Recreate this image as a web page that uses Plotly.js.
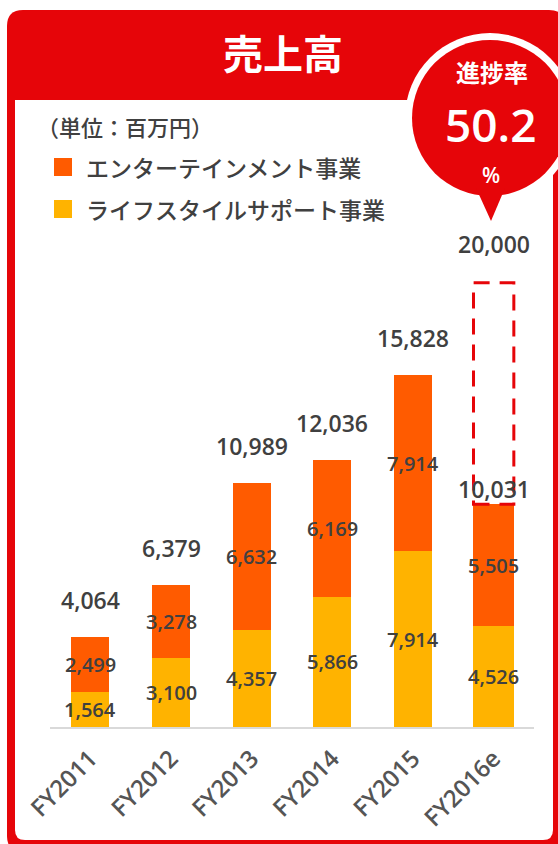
<!DOCTYPE html>
<html>
<head>
<meta charset="utf-8">
<script src="https://cdn.plot.ly/plotly-3.0.1.min.js"></script>
<style>
html,body{margin:0;padding:0;background:#fff;}
#chart{width:558px;height:844px;}
</style>
</head>
<body>
<div id="chart"></div>
<script>
// ---- data ----
const categories = ['FY2011', 'FY2012', 'FY2013', 'FY2014', 'FY2015', 'FY2016e'];
const lifestyle = [1564, 3100, 4357, 5866, 7914, 4526];      // ライフスタイルサポート事業
const entertainment = [2499, 3278, 6632, 6169, 7914, 5505];  // エンターテインメント事業
const totals = [4064, 6379, 10989, 12036, 15828, 10031];
const targetCategory = 'FY2016e';
const targetValue = 20000;
const progressRate = '50.2';
const seriesNames = ['エンターテインメント事業', 'ライフスタイルサポート事業'];
const unitLabel = '（単位：百万円）';
const chartTitle = '売上高';
const progressLabel = '進捗率';

// ---- style ----
const RED = '#E60509';
const ORANGE = '#FF5B00';
const YELLOW = '#FFB300';
const TXT = '#404040';
const NUMFONT = '"Open Sans", "Noto Sans", sans-serif';
const JPFONT = '"Noto Sans CJK JP", "Noto Sans", sans-serif';

// plot area in pixels
const L = 50, W = 484, T = 105, H = 622, B = T + H;
const px = x => (x - L) / W;
const py = y => (B - y) / H;

function rrect(x0, y0, x1, y1, rt, rb) {
  const P = (x, y) => px(x) + ',' + py(y);
  return 'M' + P(x0 + rt, y0) + ' L' + P(x1 - rt, y0) + ' Q' + P(x1, y0) + ' ' + P(x1, y0 + rt) +
    ' L' + P(x1, y1 - rb) + ' Q' + P(x1, y1) + ' ' + P(x1 - rb, y1) +
    ' L' + P(x0 + rb, y1) + ' Q' + P(x0, y1) + ' ' + P(x0, y1 - rb) +
    ' L' + P(x0, y0 + rt) + ' Q' + P(x0, y0) + ' ' + P(x0 + rt, y0) + ' Z';
}
function circle(cx, cy, r, color) {
  return {type: 'circle', xref: 'paper', yref: 'paper', layer: 'below',
    x0: px(cx - r), x1: px(cx + r), y0: py(cy + r), y1: py(cy - r),
    fillcolor: color, line: {width: 0}};
}
function paperText(x, y, text, font, xanchor) {
  return {xref: 'paper', yref: 'paper', x: px(x), y: py(y), text: text, showarrow: false,
    xanchor: xanchor || 'center', yanchor: 'middle', font: font};
}

const barWidths = [0.47, 0.47, 0.47, 0.47, 0.47, 0.51];

const traces = [
  {type: 'bar', x: categories, y: lifestyle, name: seriesNames[1],
   marker: {color: YELLOW, line: {width: 0}}, width: barWidths, hoverinfo: 'skip', showlegend: false},
  {type: 'bar', x: categories, y: entertainment, name: seriesNames[0],
   marker: {color: ORANGE, line: {width: 0}}, width: barWidths, hoverinfo: 'skip', showlegend: false}
];

const fmt = v => v.toLocaleString('en-US');
const segFont = {family: NUMFONT, size: 20, color: TXT, weight: 600};
const totFont = {family: NUMFONT, size: 23, color: TXT, weight: 600};
const annotations = [];
categories.forEach((c, i) => {
  annotations.push({x: c, y: lifestyle[i] / 2, text: fmt(lifestyle[i]), showarrow: false,
    xanchor: 'center', yanchor: 'middle', font: segFont});
  annotations.push({x: c, y: lifestyle[i] + entertainment[i] / 2, text: fmt(entertainment[i]), showarrow: false,
    xanchor: 'center', yanchor: 'middle', font: segFont});
  annotations.push({x: c, y: totals[i], yshift: c === targetCategory ? 15 : 37, text: fmt(totals[i]), showarrow: false,
    xanchor: 'center', yanchor: 'middle', font: totFont});
});
annotations.push({x: targetCategory, y: targetValue, yshift: 39, text: fmt(targetValue), showarrow: false,
  xanchor: 'center', yanchor: 'middle', font: totFont});

// header / legend / bubble text
annotations.push(paperText(283, 52, chartTitle, {family: JPFONT, size: 40, color: '#fff', weight: 700}));
annotations.push(paperText(35, 126, unitLabel, {family: JPFONT, size: 22, color: TXT, weight: 500}, 'left'));
annotations.push(paperText(84, 167, seriesNames[0], {family: JPFONT, size: 23, color: TXT, weight: 500}, 'left'));
annotations.push(paperText(84, 209, seriesNames[1], {family: JPFONT, size: 23, color: TXT, weight: 500}, 'left'));
annotations.push(paperText(492, 72, progressLabel, {family: JPFONT, size: 24, color: '#fff', weight: 700}));
annotations.push(paperText(491, 124, progressRate, {family: NUMFONT, size: 46, color: '#fff', weight: 600}));
annotations.push(paperText(491, 175, '%', {family: NUMFONT, size: 21, color: '#fff', weight: 600}));

const ti = categories.indexOf(targetCategory);
const shapes = [
  {type: 'path', xref: 'paper', yref: 'paper', layer: 'below', path: rrect(7, 10, 565, 852, 16, 16),
   fillcolor: RED, line: {width: 0}},
  {type: 'path', xref: 'paper', yref: 'paper', layer: 'below', path: rrect(15, 100, 553, 840, 0, 10),
   fillcolor: '#fff', line: {width: 0}},
  circle(490, 118, 85, '#fff'),
  circle(490, 118, 78, RED),
  {type: 'path', xref: 'paper', yref: 'paper', layer: 'below',
   path: 'M' + px(476) + ',' + py(188) + ' L' + px(505) + ',' + py(188) + ' L' + px(491) + ',' + py(221) + ' Z',
   fillcolor: RED, line: {width: 0}},
  {type: 'rect', layer: 'below', xref: 'paper', yref: 'paper', x0: px(54), x1: px(72), y0: py(176), y1: py(158),
   fillcolor: ORANGE, line: {width: 0}},
  {type: 'rect', layer: 'below', xref: 'paper', yref: 'paper', x0: px(54), x1: px(72), y0: py(218), y1: py(200),
   fillcolor: YELLOW, line: {width: 0}},
  {type: 'rect', layer: 'above', xref: 'x', yref: 'y', x0: ti - 0.25, x1: ti + 0.25, y0: totals[ti], y1: targetValue,
   line: {color: RED, width: 3, dash: '16px,10px'}, fillcolor: 'rgba(0,0,0,0)'}
];

const layout = {
  width: 558, height: 844,
  margin: {l: L, r: 558 - L - W, t: T, b: 844 - B, pad: 0},
  paper_bgcolor: '#fff', plot_bgcolor: 'rgba(0,0,0,0)',
  barmode: 'stack', bargap: 0.5,
  showlegend: false,
  xaxis: {type: 'category', range: [-0.5, 5.5], showline: true, linecolor: '#d9d9d9', linewidth: 2,
    showgrid: false, zeroline: false, ticks: '', tickangle: -45, ticklabelstandoff: 6,
    tickfont: {family: NUMFONT, size: 24, color: '#555', weight: 600}, fixedrange: true},
  yaxis: {range: [0, 28000], visible: false, showgrid: false, zeroline: false, fixedrange: true},
  shapes: shapes,
  annotations: annotations
};

Plotly.newPlot('chart', traces, layout, {displayModeBar: false, staticPlot: true});
</script>
</body>
</html>
